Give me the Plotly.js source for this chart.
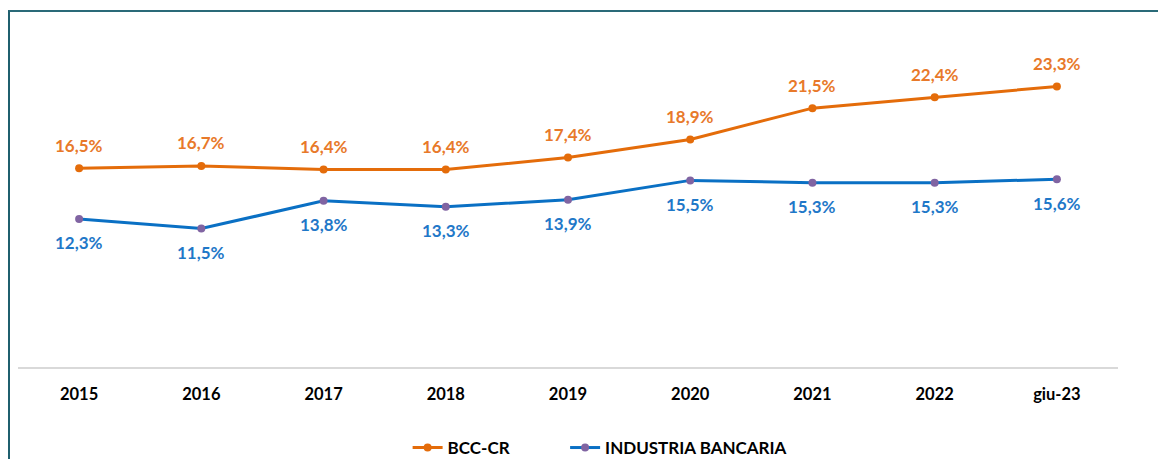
<!DOCTYPE html>
<html>
<head>
<meta charset="utf-8">
<script src="https://cdn.plot.ly/plotly-3.0.1.min.js"></script>
<style>
  html, body { margin: 0; padding: 0; background: #fff; }
  #wrap { position: relative; width: 1158px; height: 459px; overflow: hidden; }
  #chart { position: absolute; left: 0; top: 0; width: 1158px; height: 459px; }
  #frame { position: absolute; left: 8px; top: 10px; width: 1160px; height: 460px;
           border-left: 2.5px solid #1F5F6E; border-top: 2.5px solid #2A6A78; pointer-events: none; }
</style>
</head>
<body>
<div id="wrap">
  <div id="chart"></div>
  <div id="frame"></div>
</div>
<script>
const categories = ["2015", "2016", "2017", "2018", "2019", "2020", "2021", "2022", "giu-23"];
const bccValues = [16.5, 16.7, 16.4, 16.4, 17.4, 18.9, 21.5, 22.4, 23.3];
const industriaValues = [12.3, 11.5, 13.8, 13.3, 13.9, 15.5, 15.3, 15.3, 15.6];
const seriesNames = ["BCC-CR", "INDUSTRIA BANCARIA"];

const fmt = v => v.toFixed(1).replace('.', ',') + '%';
const FONT = "Lato, 'Open Sans', sans-serif";

const traces = [
  {
    x: categories, y: bccValues, name: seriesNames[0], type: 'scatter', mode: 'lines+markers',
    line: { color: '#E46C0A', width: 3 },
    marker: { color: '#E46C0A', size: 8 },
    legend: 'legend',
    hoverinfo: 'skip'
  },
  {
    x: categories, y: industriaValues, name: seriesNames[1], type: 'scatter', mode: 'lines+markers',
    line: { color: '#0A70C4', width: 3 },
    marker: { color: '#8064A2', size: 8 },
    legend: 'legend2',
    hoverinfo: 'skip'
  }
];

const annotations = [];
categories.forEach((c, i) => {
  annotations.push({ x: i, y: bccValues[i], xref: 'x', yref: 'y', text: fmt(bccValues[i]),
    showarrow: false, yshift: 23, font: { family: FONT, size: 17, color: '#E8792A', weight: 'bold' } });
  annotations.push({ x: i, y: industriaValues[i], xref: 'x', yref: 'y', text: fmt(industriaValues[i]),
    showarrow: false, yshift: -24, font: { family: FONT, size: 17, color: '#1F78C8', weight: 'bold' } });
});

const legendFont = { family: FONT, size: 17, color: '#000000', weight: 'bold' };

const layout = {
  width: 1158, height: 459,
  margin: { l: 18, r: 40, t: 65.5, b: 92, autoexpand: false },
  paper_bgcolor: '#ffffff', plot_bgcolor: '#ffffff',
  showlegend: true,
  legend: {
    orientation: 'h', xref: 'container', yref: 'container',
    x: 0.352, xanchor: 'left', y: 0.024, yanchor: 'middle', font: legendFont
  },
  legend2: {
    orientation: 'h', xref: 'container', yref: 'container',
    x: 0.488, xanchor: 'left', y: 0.024, yanchor: 'middle', font: legendFont
  },
  xaxis: {
    type: 'category', range: [-0.5, 8.5], showgrid: false, zeroline: false,
    showline: true, linecolor: '#D9D9D9', linewidth: 2, ticks: '',
    tickfont: { family: FONT, size: 16.5, color: '#000000', weight: 'bold' },
    ticklabelstandoff: 11, fixedrange: true
  },
  yaxis: {
    range: [0, 25], visible: false, showgrid: false, zeroline: false, fixedrange: true
  },
  annotations: annotations
};

Plotly.newPlot('chart', traces, layout, { displayModeBar: false, staticPlot: true });
</script>
</body>
</html>
